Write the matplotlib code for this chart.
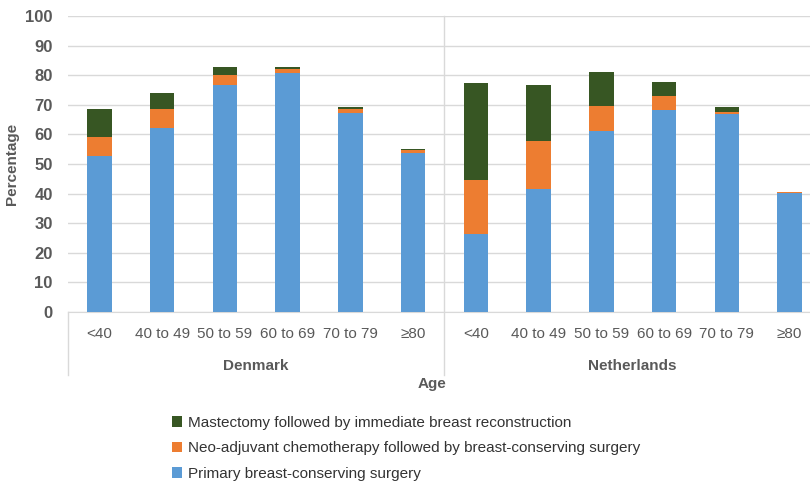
import numpy as np
import matplotlib
matplotlib.use('Agg')
import matplotlib.pyplot as plt
from matplotlib.lines import Line2D

plt.rcParams['font.family'] = ['Liberation Sans', 'DejaVu Sans']

ages = ['<40', '40 to 49', '50 to 59', '60 to 69', '70 to 79', '≥80']
countries = ['Denmark', 'Netherlands']

# Denmark then Netherlands, stacked: blue + orange + green
primary_bcs = [52.8, 62.3, 76.6, 80.8, 67.2, 53.7,
               26.4, 41.6, 61.0, 68.1, 66.8, 40.3]
neoadj_bcs = [6.3, 6.4, 3.3, 1.2, 1.5, 1.1,
              18.1, 16.1, 8.6, 4.8, 0.7, 0.1]
mast_recon = [9.6, 5.4, 2.9, 0.8, 0.5, 0.1,
              33.0, 18.9, 11.6, 4.9, 1.7, 0.3]

c_blue = '#5B9BD5'
c_orange = '#ED7D31'
c_green = '#375623'
grey = '#595959'

fig = plt.figure(figsize=(8.1, 4.82), dpi=100)
ax = fig.add_axes([68/810, (482-312)/482, (821-68)/810, 296/482])

x = np.arange(len(primary_bcs))
w = 0.39
b1 = np.array(primary_bcs)
b2 = b1 + np.array(neoadj_bcs)
ax.bar(x, primary_bcs, w, color=c_blue, label='Primary breast-conserving surgery', zorder=3)
ax.bar(x, neoadj_bcs, w, bottom=b1, color=c_orange,
       label='Neo-adjuvant chemotherapy followed by breast-conserving surgery', zorder=3)
ax.bar(x, mast_recon, w, bottom=b2, color=c_green,
       label='Mastectomy followed by immediate breast reconstruction', zorder=3)

ax.set_xlim(-0.5, 11.5)
ax.set_ylim(0, 100)
ax.set_yticks(range(0, 101, 10))
ax.yaxis.grid(True, color='#D9D9D9', linewidth=1, zorder=0)
for s in ['top', 'right', 'left']:
    ax.spines[s].set_visible(False)
ax.spines['bottom'].set_color('#D9D9D9')
ax.tick_params(axis='y', length=0, labelsize=12, labelcolor=grey, pad=11)
for lab in ax.get_yticklabels():
    lab.set_fontweight('bold')
ax.set_xticks(x)
ax.set_xticklabels(ages * 2)
ax.tick_params(axis='x', length=0, labelsize=11, labelcolor=grey, pad=11)
ax.set_ylabel('Percentage', fontsize=11, fontweight='bold', color=grey)
ax.yaxis.set_label_coords(-(68 - 19) / 753, 0.5)

# group separators and labels
trans = ax.get_xaxis_transform()
ybot = (312 - 375) / 296
ax.add_line(Line2D([-0.5, -0.5], [0, ybot], transform=trans, color='#D9D9D9', lw=1, clip_on=False))
ax.add_line(Line2D([5.5, 5.5], [1, ybot], transform=trans, color='#D9D9D9', lw=1, clip_on=False))
for i, c in enumerate(countries):
    ax.text(2.5 + 6*i, (312 - 366) / 296, c, transform=trans, ha='center', va='center',
            fontsize=11, fontweight='bold', color=grey)
fig.text(432/810, 1 - 384/482, 'Age', ha='center', va='center',
         fontsize=11, fontweight='bold', color=grey)

h, l = ax.get_legend_handles_labels()
fig.legend(h[::-1], l[::-1], loc='upper left', bbox_to_anchor=(158/810, 1 - 402/482),
           frameon=False, fontsize=11, handlelength=0.7, handleheight=0.7,
           handletextpad=0.35, labelspacing=0.75, labelcolor='#333333')

fig.savefig('out.png', dpi=100)
